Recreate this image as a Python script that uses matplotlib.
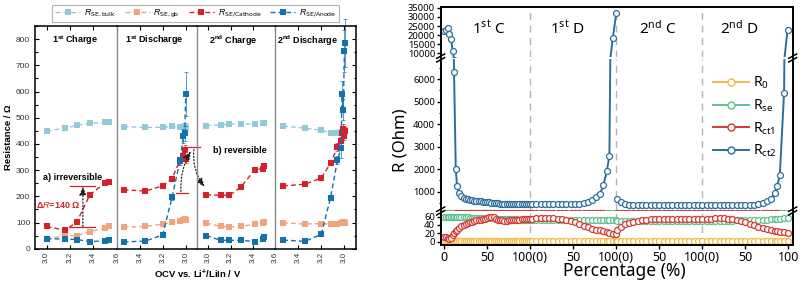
import matplotlib
matplotlib.use('Agg')
import matplotlib.pyplot as plt
from matplotlib.ticker import MultipleLocator, FixedLocator
from matplotlib.lines import Line2D

plt.rcParams['mathtext.fontset'] = 'custom'
plt.rcParams['mathtext.rm'] = 'Liberation Sans'
plt.rcParams['mathtext.it'] = 'Liberation Sans:italic'
plt.rcParams['mathtext.bf'] = 'Liberation Sans:bold'

# ---------------- Left panel data (OCV in V, resistance in Ohm) ----------------
seg_names = ['1$^{\\mathregular{st}}$ Charge', '1$^{\\mathregular{st}}$ Discharge',
             '2$^{\\mathregular{nd}}$ Charge', '2$^{\\mathregular{nd}}$ Discharge']
seg_is_charge = [True, False, True, False]

v1 = [3.00, 3.16, 3.26, 3.37, 3.50, 3.53]
bulk1 = [448, 461, 471, 478, 482, 484]
gb1 = [37, 50, 50, 64, 80, 85]
cath1 = [85, 70, 103, 206, 251, 255]
anod1 = [38, 37, 35, 27, 30, 32]

v2 = [3.54, 3.35, 3.20, 3.12, 3.05, 3.02, 3.01, 3.00]
bulk2 = [466, 463, 463, 468, 463, 466, 470, 465]
gb2 = [82, 85, 94, 101, 105, 110, 113, 111]
cath2 = [225, 220, 240, 267, 338, 355, 377, 342]
anod2 = [26, 29, 53, 196, 336, 430, 440, 590]

v3 = [2.98, 3.11, 3.19, 3.29, 3.42, 3.49, 3.50]
bulk3 = [470, 473, 475, 476, 477, 479, 480]
gb3 = [98, 85, 83, 85, 93, 98, 101]
cath3 = [206, 204, 204, 234, 302, 305, 314]
anod3 = [50, 32, 32, 32, 27, 38, 43]

v4 = [3.53, 3.34, 3.20, 3.12, 3.06, 3.03, 3.02, 3.01, 3.00, 2.995]
bulk4 = [468, 460, 452, 443, 442, 445, 447, 448, 450, 450]
gb4 = [99, 94, 96, 93, 96, 98, 100, 101, 101, 100]
cath4 = [240, 246, 270, 326, 388, 412, 440, 455, 430, 450]
anod4 = [33, 28, 55, 195, 338, 385, 590, 530, 755, 785]
anod_err4 = [0, 0, 0, 10, 15, 40, 50, 40, 80, 90]
cath_err4 = [0, 0, 0, 8, 15, 15, 18, 20, 15, 15]
anod_err2 = [0, 0, 0, 10, 15, 25, 30, 85]
cath_err2 = [0, 0, 0, 8, 12, 15, 20, 15]

left_series_labels = ['$\\mathit{R}_{\\mathregular{SE,bulk}}$', '$\\mathit{R}_{\\mathregular{SE,gb}}$',
                      '$\\mathit{R}_{\\mathregular{SE/Cathode}}$', '$\\mathit{R}_{\\mathregular{SE/Anode}}$']
left_colors = ['#92cadb', '#f2a57c', '#d7202a', '#1272ad']

segs = [
    (v1, [bulk1, gb1, cath1, anod1], [None, None, None, None]),
    (v2, [bulk2, gb2, cath2, anod2], [None, None, cath_err2, anod_err2]),
    (v3, [bulk3, gb3, cath3, anod3], [None, None, None, None]),
    (v4, [bulk4, gb4, cath4, anod4], [None, None, cath_err4, anod_err4]),
]

# ---------------- Right panel data (percentage position, Ohm) ----------------
c1_x = [0, 2, 4, 6, 8, 10, 11.5, 13.5, 15, 17.5, 20, 22.5, 25, 27.5, 30, 32.5, 35, 37.5, 40, 42.5,
        45, 47.5, 50, 52.5, 55, 57.5, 60, 62.5, 65, 67.5, 70, 72.5, 75, 77.5, 80, 82.5, 85, 87.5, 90,
        92.5, 95, 97.5, 100]
d1_x = [102, 107, 112, 117, 122, 127, 132, 137, 142, 147, 152, 157, 162, 167, 172, 177, 181, 185,
        189, 192, 196, 200]
c2_x = [200.5, 205, 210, 215, 220, 225, 230, 235, 240, 245, 250, 255, 260, 265, 270, 275, 280, 285,
        290, 295, 300]
d2_x = [305, 310, 315, 320, 325, 330, 335, 340, 345, 350, 355, 360, 365, 370, 375, 380, 384, 387,
        390, 395, 399]

r0_c1 = [1.5, 1.2, 1.0, 1.3, 1.1, 0.9, 1.0, 1.2, 0.8, 1.0, 0.9, 1.1, 1.0, 0.8, 1.0, 1.2, 0.9, 1.0,
         1.1, 0.9, 1.0, 0.8, 1.0, 1.1, 0.9, 1.0, 1.2, 1.0, 0.9, 1.0, 1.1, 0.9, 1.0, 1.0, 0.8, 1.0,
         1.1, 0.9, 1.0, 1.0, 0.9, 1.0, 1.1]
r0_d1 = [1.0, 0.9, 1.0, 1.1, 1.0, 0.9, 1.0, 1.0, 1.1, 0.9, 1.0, 1.0, 0.9, 1.0, 1.1, 1.0, 0.9, 1.0,
         1.0, 1.1, 1.0, 1.0]
r0_c2 = [1.0, 1.1, 0.9, 1.0, 1.0, 1.1, 0.9, 1.0, 1.0, 0.9, 1.0, 1.1, 1.0, 0.9, 1.0, 1.0, 1.1, 1.0,
         0.9, 1.0, 1.0]
r0_d2 = [1.0, 0.9, 1.0, 1.1, 1.0, 1.0, 0.9, 1.0, 1.1, 1.0, 0.9, 1.0, 1.0, 1.1, 1.0, 0.9, 1.0, 1.0,
         1.1, 1.0, 1.0]

rse_c1 = [59, 59, 60, 59, 59, 59, 58, 58, 59, 58, 58, 58, 58, 58, 57, 57, 57, 57, 57, 57, 57, 56,
          56, 56, 56, 56, 55, 55, 55, 55, 55, 55, 54, 54, 54, 54, 54, 53, 53, 53, 53, 53, 53]
rse_d1 = [53, 53, 52, 52, 52, 52, 52, 51, 51, 51, 51, 51, 51, 51, 51, 51, 51, 51, 51, 51, 51, 51]
rse_c2 = [50, 50, 50, 50, 49, 49, 49, 49, 49, 49, 49, 49, 49, 49, 49, 49, 49, 49, 50, 50, 50]
rse_d2 = [50, 50, 50, 50, 50, 50, 50, 51, 51, 51, 51, 52, 52, 53, 53, 54, 54, 55, 55, 56, 57]

rct1_c1 = [12, 10, 8, 6, 9, 15, 20, 25, 28, 33, 37, 41, 43, 45, 46, 48, 50, 51, 52, 53, 54, 55,
           57, 58, 59, 58, 55, 53, 52, 51, 50, 50, 51, 51, 52, 52, 53, 53, 54, 54, 54, 55, 55]
rct1_d1 = [55, 56, 56, 56, 56, 56, 55, 54, 52, 50, 46, 42, 38, 34, 31, 29, 27, 25, 23, 21, 19, 18]
rct1_c2 = [29, 36, 42, 45, 48, 50, 52, 53, 54, 54, 55, 55, 55, 55, 55, 55, 54, 54, 54, 54, 55]
rct1_d2 = [55, 55, 56, 56, 56, 55, 55, 53, 50, 47, 43, 39, 35, 32, 30, 28, 26, 25, 24, 22, 20]

rct2_c1 = [22300, 23000, 23800, 20500, 17800, 11500, 6300, 2000, 1250, 930, 790, 720, 680, 650,
           630, 610, 600, 585, 575, 565, 555, 545, 535, 525, 510, 495, 480, 470, 460, 452, 445,
           440, 435, 432, 430, 430, 428, 428, 430, 430, 432, 433, 435]
rct2_d1 = [435, 433, 430, 430, 428, 428, 428, 428, 430, 432, 435, 440, 480, 540, 620, 760, 880,
           1284, 1900, 2600, 18500, 32000]
rct2_c2 = [667, 520, 450, 420, 410, 405, 400, 398, 396, 395, 395, 395, 396, 397, 398, 400, 400,
           402, 403, 405, 406]
rct2_d2 = [402, 403, 404, 405, 405, 406, 408, 410, 410, 412, 415, 420, 440, 480, 560, 690, 950,
           1250, 1730, 5400, 23000]

right_labels = ['$\\mathregular{R_{0}}$', '$\\mathregular{R_{se}}$', '$\\mathregular{R_{ct1}}$',
                '$\\mathregular{R_{ct2}}$']
right_colors = ['#f3bb45', '#5fc08f', '#d43a36', '#2c6f9a']
right_series = [(r0_c1 + r0_d1, r0_c2 + r0_d2), (rse_c1 + rse_d1, rse_c2 + rse_d2),
                (rct1_c1 + rct1_d1, rct1_c2 + rct1_d2), (rct2_c1 + rct2_d1, rct2_c2 + rct2_d2)]
cyc1_x = c1_x + d1_x
cyc2_x = c2_x + d2_x

xtick_pos = [0, 50, 100, 150, 200, 250, 300, 350, 400]
xtick_lab = ['0', '50', '100(0)', '50', '100(0)', '50', '100(0)', '50', '100']
step_names = ['1$^{\\mathregular{st}}$ C', '1$^{\\mathregular{st}}$ D', '2$^{\\mathregular{nd}}$ C',
              '2$^{\\mathregular{nd}}$ D']
step_pos = [52, 143, 248, 343]

# ---------------- Figure ----------------
W, H = 803, 286
fig = plt.figure(figsize=(W / 100, H / 100), dpi=100)
fig.patch.set_facecolor('white')


def fx(px):
    return px / W


def fy(py):
    return 1 - py / H


LF = 'Liberation Sans'
seg_px = [35, 116.7, 197.3, 275, 356]
top_px, bot_px = 26.0, 248.7
axL = []
title_frac = [0.49, 0.47, 0.46, 0.40]
for i in range(4):
    ax = fig.add_axes([fx(seg_px[i]), fy(bot_px), (seg_px[i + 1] - seg_px[i]) / W, (bot_px - top_px) / H])
    ax.patch.set_visible(False)
    ax.set_ylim(0, 850)
    if seg_is_charge[i]:
        ax.set_xlim(2.9, 3.6)
        ticks = [3.0, 3.2, 3.4, 3.6]
    else:
        ax.set_xlim(3.6, 2.9)
        ticks = [3.4, 3.2, 3.0]
    ax.xaxis.set_major_locator(FixedLocator(ticks))
    ax.set_xticklabels(['%.1f' % t for t in ticks], rotation=90, fontsize=5.8, family=LF, color='#333333')
    ax.tick_params(axis='x', direction='in', top=True, length=3, width=0.8, pad=2)
    ax.yaxis.set_major_locator(MultipleLocator(100))
    ax.yaxis.set_minor_locator(MultipleLocator(50))
    for s in ax.spines.values():
        s.set_linewidth(1.1)
    if i == 0:
        ax.tick_params(axis='y', which='both', direction='in', left=True, right=False, labelsize=6,
                       length=3, width=0.8)
        ax.tick_params(axis='y', which='minor', length=1.8)
        for lab in ax.get_yticklabels():
            lab.set_family(LF)
            lab.set_color('#333333')
    elif i == 3:
        ax.tick_params(axis='y', which='both', direction='in', left=False, right=True, labelleft=False,
                       length=3, width=0.8)
        ax.tick_params(axis='y', which='minor', length=1.8)
    else:
        ax.tick_params(axis='y', which='both', left=False, right=False, labelleft=False)
    if i > 0:
        ax.spines['left'].set_color('#8a8a8a')
        ax.spines['left'].set_linewidth(1.0)
    if i < 3:
        ax.spines['right'].set_visible(False)
    ax.text(title_frac[i], 0.935, seg_names[i], transform=ax.transAxes, ha='center', va='center',
            fontsize=6.5, fontweight='bold', family=LF)
    v, vals, errs = segs[i]
    for k in range(4):
        if errs[k] is not None:
            ax.errorbar(v, vals[k], yerr=errs[k], fmt='none', ecolor=left_colors[k], elinewidth=0.6,
                        capsize=1.5, capthick=0.6, alpha=0.8, clip_on=False)
        ax.plot(v, vals[k], linestyle=(0, (3.5, 2.2)), lw=1.0, marker='s', ms=3.8, mew=0,
                color=left_colors[k], clip_on=False)
    axL.append(ax)

axL[0].set_ylabel('Resistance / \u03a9', fontsize=6.8, fontweight='bold', family=LF, labelpad=2)
fig.text(fx(198), fy(274.7), 'OCV vs. Li$^{\\mathregular{+}}$/LiIn / V', ha='center', va='center',
         fontsize=6.8, fontweight='bold', family=LF)

# legend left
lh = [Line2D([], [], linestyle=(0, (3.5, 2.2)), lw=1.0, marker='s', ms=3.8, mew=0, color=c)
      for c in left_colors]
lg = fig.legend(lh, left_series_labels, loc='center', bbox_to_anchor=(fx(195.5), fy(13.5)), ncol=4,
                frameon=True, fancybox=False, edgecolor='#a0a0a0', fontsize=6.3, handlelength=2.9,
                columnspacing=1.0, handletextpad=0.4, borderpad=0.3)
lg.get_frame().set_linewidth(0.8)

# annotations left
a0, a1, a2 = axL[0], axL[1], axL[2]
red = '#d7202a'
a0.text(2.965, 272, 'a) irreversible', fontsize=6.5, fontweight='bold', family=LF, ha='left', va='center')
a0.plot([3.197, 3.417], [238, 238], color=red, lw=0.9)
a0.plot([3.197, 3.417], [83, 83], color=red, lw=0.9)
a0.annotate('', xy=(3.31, 238), xytext=(3.31, 85),
            arrowprops=dict(arrowstyle='-|>,head_length=0.5,head_width=0.2', linestyle=':', lw=0.9,
                            color='#222222', shrinkA=0, shrinkB=0))
a0.text(2.905, 166, '\u0394$\\mathit{R}$=140 \u03a9', fontsize=6.5, fontweight='bold', family=LF,
        color=red, ha='left', va='center')
a2.text(3.037, 375, 'b) reversible', fontsize=6.5, fontweight='bold', family=LF, ha='left', va='center')
a1.plot([3.014, 2.88], [388, 388], color=red, lw=0.9, clip_on=False)
a1.plot([3.085, 2.977], [213, 213], color=red, lw=0.9)
a1.annotate('', xy=(2.956, 372), xytext=(3.042, 218),
            arrowprops=dict(arrowstyle='-|>,head_length=0.5,head_width=0.2', linestyle=':', lw=0.9,
                            color='#222222', shrinkA=0, shrinkB=0, connectionstyle='arc3,rad=-0.15'))
a1.annotate('', xy=(2.966, 236), xycoords=a2.transData, xytext=(2.93, 378), textcoords=a1.transData,
            arrowprops=dict(arrowstyle='-|>,head_length=0.5,head_width=0.2', linestyle=':', lw=0.9,
                            color='#222222', shrinkA=0, shrinkB=0, connectionstyle='arc3,rad=0.2'),
            annotation_clip=False)

# ---------------- Right panel ----------------
RF = 'Noto Sans'
xl, xr = 440.7, 792.7
sections = [(7, 57, (7960, 35500)), (59, 210, (180, 6890)), (212, 245, (-8, 71))]
axR = []
for j, (t, b, yl) in enumerate(sections):
    ax = fig.add_axes([fx(xl), fy(b), (xr - xl) / W, (b - t) / H])
    ax.patch.set_visible(False)
    ax.set_xlim(-4, 405)
    ax.set_ylim(*yl)
    for s in ax.spines.values():
        s.set_linewidth(1.4)
    if j > 0:
        ax.spines['top'].set_visible(False)
    if j < 2:
        ax.spines['bottom'].set_visible(False)
        ax.tick_params(axis='x', which='both', bottom=False, labelbottom=False)
    for xv in [100, 200, 300]:
        ax.axvline(xv, color='#b5b5b5', lw=1.0, linestyle=(0, (5, 4)), zorder=0)
    for k in range(4):
        s1, s2 = right_series[k]
        for xs, ys in [(cyc1_x, s1), (cyc2_x, s2)]:
            ax.plot(xs, ys, color=right_colors[k], lw=1.4, marker='o', ms=4.3, mfc='white',
                    mec=right_colors[k], mew=0.9)
    ax.tick_params(axis='y', which='major', direction='out', length=3, width=1.0, labelsize=6.8, pad=1)
    ax.tick_params(axis='y', which='minor', direction='out', length=1.8, width=0.8)
    axR.append(ax)

axR[0].yaxis.set_major_locator(FixedLocator([10000, 15000, 20000, 25000, 30000, 35000]))
axR[1].yaxis.set_major_locator(FixedLocator([1000, 2000, 3000, 4000, 5000, 6000]))
axR[1].yaxis.set_minor_locator(MultipleLocator(500))
axR[2].yaxis.set_major_locator(FixedLocator([0, 20, 40, 60]))
axR[2].xaxis.set_major_locator(FixedLocator(xtick_pos))
axR[2].set_xticklabels(xtick_lab)
axR[2].tick_params(axis='x', direction='out', length=3, width=1.0, labelsize=9, pad=1)
for ax in axR:
    for lab in ax.get_yticklabels() + ax.get_xticklabels():
        lab.set_family(RF)
        lab.set_fontweight('bold')

for k, nm in enumerate(step_names):
    axR[0].text(step_pos[k], 23400, nm, ha='center', va='center', fontsize=11, family=RF)

# break marks
for yb in [58, 211]:
    for xb in [xl, xr]:
        for dy in [-1.8, 1.8]:
            fig.add_artist(Line2D([fx(xb - 4), fx(xb + 4)], [fy(yb + dy + 2.2), fy(yb + dy - 2.2)],
                                  color='black', lw=1.1, transform=fig.transFigure))

rh = [Line2D([], [], color=c, lw=1.4, marker='o', ms=5, mfc='white', mec=c, mew=1.0) for c in right_colors]
fig.legend(rh, right_labels, loc='upper left', bbox_to_anchor=(fx(706), fy(68)), frameon=False,
           prop={'family': RF, 'size': 10}, handlelength=2.6, handletextpad=0.3, labelspacing=0.45,
           borderpad=0)

fig.text(fx(624), fy(271), 'Percentage (%)', ha='center', va='center', fontsize=12.5, family=RF)
fig.text(fx(401), fy(140), 'R (Ohm)', ha='center', va='center', fontsize=12, family=RF, rotation=90)

fig.savefig('out.png', dpi=100, facecolor='white')
